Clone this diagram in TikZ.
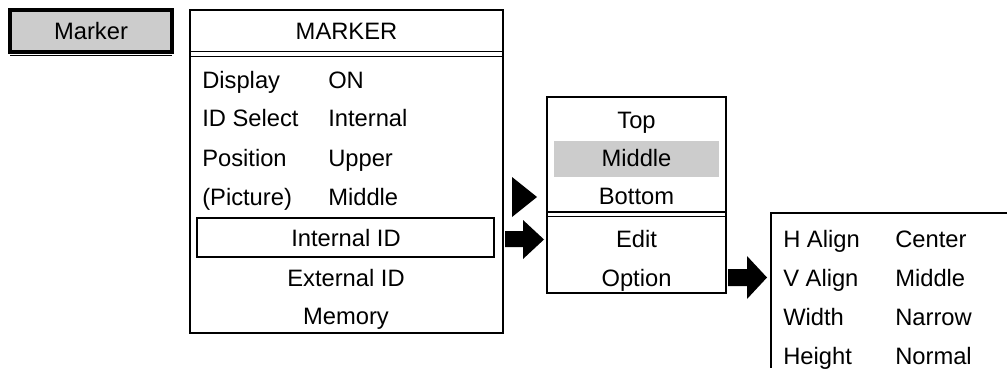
\documentclass[tikz,border=0pt]{standalone}
\usepackage{fontspec}
\setmainfont{Liberation Sans}
\usepackage{xcolor}
\usetikzlibrary{positioning}
\definecolor{menugray}{RGB}{204,204,204}

\begin{document}
\begin{tikzpicture}[x=0.75pt, y=-0.75pt,
    menutext/.style={font=\fontsize{17.8}{21}\selectfont, inner sep=0pt,
                     text height=12.7pt, text depth=0pt},
    menuframe/.style={draw=black, line width=1.35pt},
    fatarrow/.style={fill=black}]
    \useasboundingbox (0,0) rectangle (1007,368);
    % Marker key (pressed)
    \fill[menugray] (10,10) rectangle (172,52);
    \draw[black, line width=2.6pt] (10,10) rectangle (172,52);
    \draw[black, line width=1.2pt] (10,55.5) -- (172,55.5);
    \node[menutext] (key) at (91,31) {Marker};
    % MARKER menu
    \draw[menuframe] (190,10) rectangle (503,333);
    \draw[menuframe] (190,51.5) -- (503,51.5);
    \draw[menuframe] (190,56.5) -- (503,56.5);
    \node[menutext] (title) at (346.5,31) {MARKER};
    \foreach \name/\item/\value/\y in {
        disp/Display/ON/80,
        idsel/ID Select/Internal/118,
        pos/Position/Upper/158,
        pict/(Picture)/Middle/197
    } {
        \node[menutext, anchor=west] (\name) at (202,\y) {\item};
        \node[menutext, anchor=west] (\name val) at (328,\y) {\value};
    }
    \draw[black, line width=1.1pt] (197,218) rectangle (494,257);
    \node[menutext] (intid) at (346,238.5) {Internal ID};
    \node[menutext] (extid) at (346,278) {External ID};
    \node[menutext] (memory) at (346,316) {Memory};
    % Position sub-menu
    \draw[menuframe] (547,97) rectangle (726,293);
    \draw[menuframe] (547,212) -- (726,212);
    \draw[menuframe] (547,216.5) -- (726,216.5);
    \fill[menugray] (554,141) rectangle (719,177);
    \foreach \name/\item/\y in {
        top/Top/120, mid/Middle/158, bot/Bottom/196,
        edit/Edit/239, option/Option/278
    } {
        \node[menutext] (\name) at (636.5,\y) {\item};
    }
    % Option sub-menu (runs off the page)
    \draw[menuframe] (1007,213) -- (771,213) -- (771,368);
    \foreach \name/\item/\value/\y in {
        halign/H Align/Center/239,
        valign/V Align/Middle/278,
        width/Width/Narrow/317,
        height/Height/Normal/356
    } {
        \node[menutext, anchor=west] (\name) at (783,\y) {\item};
        \node[menutext, anchor=west] (\name val) at (895,\y) {\value};
    }
    % Arrows between the menus
    \coordinate (tri) at (512,177);
    \fill (tri) -- ++(0,40) -- ++(25,-20) -- cycle;
    \coordinate (arrA) at (505,231);
    \fill[fatarrow] (arrA) -- ++(18,0) -- ++(0,-11) -- ++(21,19.5)
        -- ++(-21,19.5) -- ++(0,-12) -- ++(-18,0) -- cycle;
    \coordinate (arrB) at (728,269);
    \fill[fatarrow] (arrB) -- ++(19,0) -- ++(0,-13) -- ++(20,21.5)
        -- ++(-20,21.5) -- ++(0,-13) -- ++(-19,0) -- cycle;
\end{tikzpicture}
\end{document}
